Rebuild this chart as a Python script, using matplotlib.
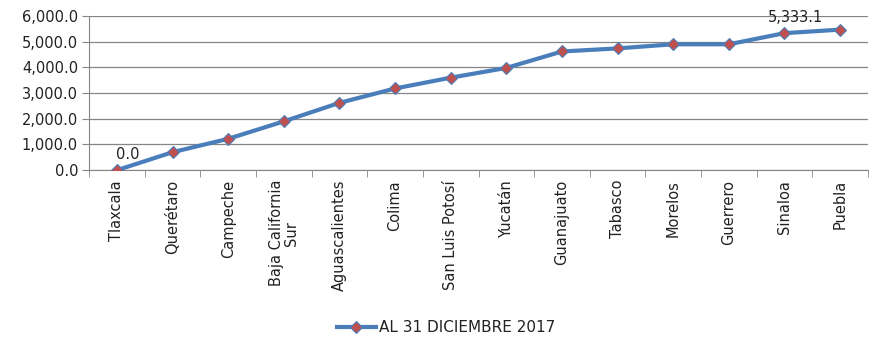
import matplotlib.pyplot as plt
from matplotlib.ticker import FuncFormatter, FixedLocator

states = ["Tlaxcala", "Querétaro", "Campeche", "Baja California\nSur",
          "Aguascalientes", "Colima", "San Luis Potosí", "Yucatán",
          "Guanajuato", "Tabasco", "Morelos", "Guerrero", "Sinaloa", "Puebla"]
values = [0.0, 700, 1220, 1900, 2620, 3180, 3600, 3980,
          4620, 4740, 4900, 4900, 5333.1, 5470]
labeled = {0: "0.0", 12: "5,333.1"}

plt.rcParams["font.family"] = ["DejaVu Sans"]

fig = plt.figure(figsize=(8.74, 3.41), dpi=100)
ax = fig.add_axes([0.102, 0.501, 0.891, 0.452])

x = range(len(states))
ax.plot(x, values, color="#4a7ebb", lw=3, marker="D", ms=6,
        mfc="#c0504d", mec="#4a7ebb", mew=0.8, label="AL 31 DICIEMBRE 2017",
        zorder=3)

for i, txt in labeled.items():
    ax.annotate(txt, (i, values[i]), xytext=(8, 6), textcoords="offset points",
                ha="center", va="bottom", fontsize=10.5, color="#222222")

ax.set_xlim(-0.5, len(states) - 0.5)
ax.set_ylim(0, 6000)
ax.set_yticks(range(0, 6001, 1000))
ax.yaxis.set_major_formatter(FuncFormatter(lambda v, p: f"{v:,.1f}"))
ax.set_xticks(list(x))
ax.set_xticklabels(states, rotation=90, fontsize=10.5, va="top",
                   linespacing=1.0)
ax.xaxis.set_minor_locator(FixedLocator([i - 0.5 for i in range(len(states) + 1)]))
ax.tick_params(axis="x", which="major", length=0, pad=7)
ax.tick_params(axis="x", which="minor", length=5, color="#868686")
ax.tick_params(axis="y", length=5, color="#868686", labelsize=10.5, pad=3,
               labelcolor="#222222")
ax.tick_params(axis="x", labelcolor="#222222")
ax.grid(axis="y", color="#868686", lw=0.9)
ax.set_axisbelow(True)
for s in ["top", "right"]:
    ax.spines[s].set_visible(False)
for s in ["left", "bottom"]:
    ax.spines[s].set_color("#868686")

fig.legend(loc="center", bbox_to_anchor=(0.51, 0.04), frameon=False,
           fontsize=11, handlelength=2.6, handletextpad=0.15,
           labelcolor="#222222")

fig.savefig("out.png", dpi=100)
